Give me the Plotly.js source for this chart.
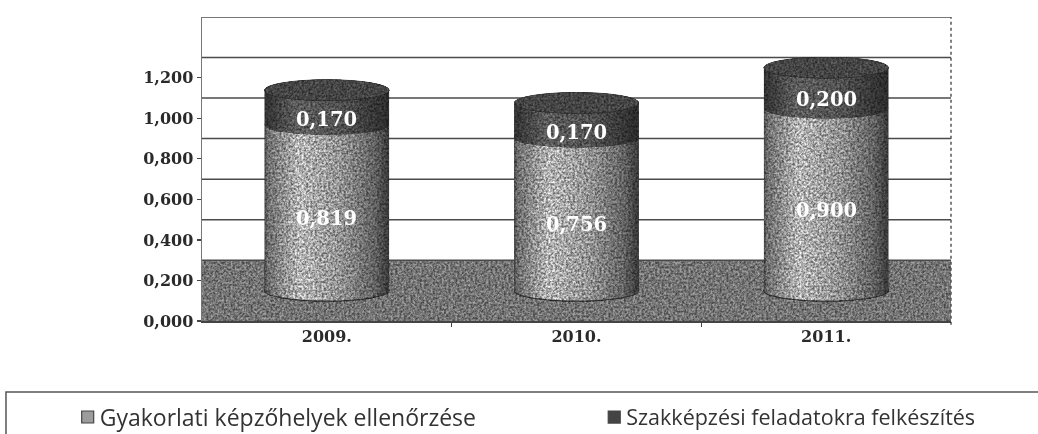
<!DOCTYPE html>
<html>
<head>
<meta charset="utf-8">
<script src="https://cdn.plot.ly/plotly-3.0.1.min.js"></script>
<style>
html,body{margin:0;padding:0;background:#fff;overflow:hidden}
#chart{width:1038px;height:434px;filter:blur(0.45px)}
</style>
</head>
<body>
<svg width="0" height="0" style="position:absolute">
  <defs>
    <linearGradient id="gradLight" x1="0" x2="1" y1="0" y2="0">
      <stop offset="0" stop-color="#3e3e3e"/><stop offset="0.025" stop-color="#6c6c6c"/>
      <stop offset="0.28" stop-color="#b4b4b4"/><stop offset="0.6" stop-color="#949494"/>
      <stop offset="0.88" stop-color="#626262"/><stop offset="1" stop-color="#363636"/>
    </linearGradient>
    <linearGradient id="gradDark" x1="0" x2="1" y1="0" y2="0">
      <stop offset="0" stop-color="#303030"/><stop offset="0.25" stop-color="#5c5c5c"/>
      <stop offset="0.6" stop-color="#525252"/><stop offset="1" stop-color="#2a2a2a"/>
    </linearGradient>
    <filter id="speckle" x="0" y="0" width="1" height="1" color-interpolation-filters="sRGB">
      <feTurbulence type="fractalNoise" baseFrequency="0.45" numOctaves="3" seed="4" result="n"/>
      <feColorMatrix in="n" type="matrix" values="1.9 0 0 0 -0.45  1.9 0 0 0 -0.45  1.9 0 0 0 -0.45  0 0 0 0 1" result="g"/>
      <feComposite in="SourceGraphic" in2="g" operator="arithmetic" k1="0.8" k2="0.6" k3="0" k4="0" result="m"/>
      <feComposite in="m" in2="SourceGraphic" operator="in"/>
    </filter>
  </defs>
</svg>
<div id="chart"></div>
<script>
var categories = ['2009.', '2010.', '2011.'];
var seriesNames = ['Gyakorlati képzőhelyek ellenőrzése', 'Szakképzési feladatokra felkészítés'];
var practicalValues = [0.819, 0.756, 0.900];
var preparationValues = [0.170, 0.170, 0.200];
var yTickValues = [0, 0.2, 0.4, 0.6, 0.8, 1.0, 1.2];
var yTickLabels = ['0,000', '0,200', '0,400', '0,600', '0,800', '1,000', '1,200'];
var wallLines = [0.3, 0.5, 0.7, 0.9, 1.1, 1.3, 1.5];
var floorTop = 0.3;
var cylinderBase = 0.15;
var ellipseHalf = 0.052;
var halfWidth = 0.25;

var positions = categories.map(function(c,i){ return i; });
var boundaries = positions.slice(1).map(function(p){ return p - 0.5; });

var FONT = '"DejaVu Serif", serif';
var tickFont = {family: FONT, size: 16, color: '#2a2a2a', weight: 700};
function fmt(v){ return v.toFixed(3).replace('.', ','); }

var shapes = [];
shapes.push({type:'rect', layer:'below', xref:'paper', yref:'y', x0:0, x1:1, y0:0, y1:floorTop,
  fillcolor:'#747474', line:{width:0}});
wallLines.forEach(function(v){
  shapes.push({type:'line', layer:'below', xref:'paper', yref:'y', x0:0, x1:1, y0:v, y1:v,
    line:{color:'#4a4a4a', width:1.5}});
});
shapes.push({type:'line', layer:'below', xref:'paper', yref:'paper', x0:1, x1:1, y0:-0.012, y1:1,
  line:{color:'#555555', width:1.5, dash:'dot'}});
var firstCylShape = shapes.length;
positions.forEach(function(p){
  shapes.push({type:'circle', layer:'below', xref:'x', yref:'y', x0:p-halfWidth, x1:p+halfWidth,
    y0:cylinderBase-ellipseHalf, y1:cylinderBase+ellipseHalf,
    fillcolor:'#909090', line:{color:'#333333', width:1.2}});
});
var firstAbove = shapes.length;
positions.forEach(function(p,i){
  var mid = cylinderBase + practicalValues[i];
  var top = mid + preparationValues[i];
  shapes.push({type:'circle', layer:'above', xref:'x', yref:'y', x0:p-halfWidth, x1:p+halfWidth,
    y0:mid-ellipseHalf, y1:mid+ellipseHalf, fillcolor:'#4d4d4d', line:{width:0}});
  shapes.push({type:'circle', layer:'above', xref:'x', yref:'y', x0:p-halfWidth, x1:p+halfWidth,
    y0:top-ellipseHalf, y1:top+ellipseHalf, fillcolor:'#454545', line:{color:'#333333', width:1}});
});
// legend frame, running off the bottom and right of the picture
shapes.push({type:'rect', layer:'below', xref:'paper', yref:'paper',
  x0:-0.2617, x1:1.2, y0:-0.5, y1:-0.2336, fillcolor:'rgba(0,0,0,0)', line:{color:'#555555', width:1.5}});

var annotations = [];
positions.forEach(function(p,i){
  var labelFont = {family: FONT, size: 19.5, color: '#ffffff', weight: 700};
  annotations.push({x:p, y:cylinderBase + practicalValues[i]/2, xref:'x', yref:'y', text:fmt(practicalValues[i]),
    showarrow:false, yshift:-11, font:labelFont});
  annotations.push({x:p, y:cylinderBase + practicalValues[i] + preparationValues[i]/2, xref:'x', yref:'y',
    text:fmt(preparationValues[i]), showarrow:false, yshift:-12, font:labelFont});
});

var traces = [
  {type:'bar', name:seriesNames[0], x:positions, y:practicalValues, base:positions.map(function(){return cylinderBase;}),
   width:2*halfWidth, legend:'legend', marker:{color:'#9c9c9c', line:{color:'#444444', width:1.2}}, hoverinfo:'skip'},
  {type:'bar', name:seriesNames[1], x:positions, y:preparationValues,
   base:practicalValues.map(function(v){return v + cylinderBase;}),
   width:2*halfWidth, legend:'legend2', marker:{color:'#444444', line:{color:'#444444', width:1.2}}, hoverinfo:'skip'}
];

var layout = {
  width:1038, height:434,
  margin:{l:202, r:87, t:17, b:113, autoexpand:false},
  paper_bgcolor:'#ffffff', plot_bgcolor:'#ffffff',
  barmode:'overlay',
  xaxis:{range:[-0.5,2.5], tickmode:'array', tickvals:positions, ticktext:categories, ticks:'',
    minor:{tickmode:'array', tickvals:boundaries, ticks:'outside', ticklen:4, tickcolor:'#444444', tickwidth:1.2, showgrid:false},
    showgrid:false, zeroline:false, showline:true, linecolor:'#444444', linewidth:1.5, tickfont:tickFont},
  yaxis:{range:[0,1.5], tickmode:'array', tickvals:yTickValues, ticktext:yTickLabels, ticks:'outside', ticklen:4,
    tickcolor:'#444444', tickwidth:1.2, showgrid:false, zeroline:false, showline:true, linecolor:'#777777', linewidth:1.5,
    tickfont:tickFont},
  shapes:shapes, annotations:annotations,
  showlegend:true,
  legend:{x:-0.19, xanchor:'left', y:-0.316, yanchor:'middle',
    font:{family:'"Open Sans", sans-serif', size:23, color:'#333333'}, bgcolor:'rgba(0,0,0,0)', borderwidth:0},
  legend2:{x:0.513, xanchor:'left', y:-0.316, yanchor:'middle',
    font:{family:'"Open Sans", sans-serif', size:21.5, color:'#333333'}, bgcolor:'rgba(0,0,0,0)', borderwidth:0}
};

Plotly.newPlot('chart', traces, layout, {displayModeBar:false, staticPlot:true}).then(function(){
  var gd = document.getElementById('chart');
  function style(el, fill){ if(fill) el.style.fill = fill; el.style.filter = 'url(#speckle)'; }
  var barGroups = gd.querySelectorAll('.barlayer .trace');
  barGroups.forEach(function(t, idx){
    t.querySelectorAll('.point path').forEach(function(p){
      p.style.strokeWidth = '0';
      style(p, idx === 0 ? 'url(#gradLight)' : 'url(#gradDark)');
    });
  });
  gd.querySelectorAll('.shapelayer path').forEach(function(p){
    var i = +p.getAttribute('data-index');
    if(i === 0) style(p, null);
    else if(i >= firstCylShape && i < firstAbove) style(p, 'url(#gradLight)');
    else if(i >= firstAbove && i < firstAbove + 2*categories.length){
      style(p, (i - firstAbove) % 2 === 0 ? 'url(#gradDark)' : null);
    }
  });
  // legend swatches sit closer to their text in the reference
  gd.querySelectorAll('.legendpoints').forEach(function(g){
    g.setAttribute('transform', 'translate(8,0)');
  });
});
</script>
</body>
</html>
